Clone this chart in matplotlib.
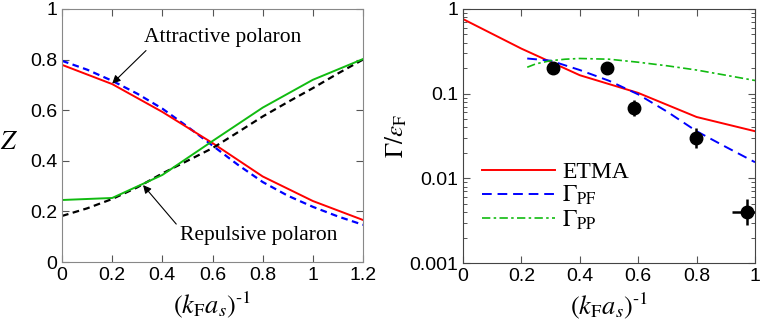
import numpy as np
from matplotlib import pyplot as plt

plt.rcParams['font.family'] = ['Liberation Sans', 'DejaVu Sans']
plt.rcParams['mathtext.fontset'] = 'stix'

# left panel: quasiparticle residue Z
x_coarse = [0, 0.2, 0.4, 0.6, 0.8, 1.0, 1.2]
z_attr_etma = [0.779, 0.703, 0.593, 0.470, 0.338, 0.241, 0.166]
z_rep_etma = [0.245, 0.253, 0.344, 0.478, 0.610, 0.720, 0.802]
x_fine = [0, 0.1, 0.2, 0.3, 0.4, 0.5, 0.6, 0.7, 0.8, 0.9, 1.0, 1.1, 1.2]
z_attr_ref = [0.795, 0.760, 0.716, 0.665, 0.606, 0.535, 0.460, 0.385, 0.316, 0.262, 0.218, 0.180, 0.147]
z_rep_ref = [0.182, 0.212, 0.249, 0.295, 0.350, 0.400, 0.450, 0.512, 0.575, 0.632, 0.687, 0.745, 0.800]

# right panel: decay rate
x_etma = [0, 0.2, 0.4, 0.6, 0.8, 1.0]
g_etma = [0.76, 0.34, 0.165, 0.102, 0.053, 0.036]
x_pf = [0.22, 0.3, 0.4, 0.5, 0.6, 0.7, 0.8, 0.9, 1.0]
g_pf = [0.26, 0.245, 0.19, 0.142, 0.098, 0.061, 0.036, 0.0235, 0.0155]
x_pp = [0.22, 0.25, 0.3, 0.35, 0.4, 0.5, 0.6, 0.7, 0.8, 0.9, 1.0]
g_pp = [0.205, 0.225, 0.245, 0.255, 0.26, 0.255, 0.235, 0.213, 0.19, 0.165, 0.143]
x_exp = [0.308, 0.493, 0.586, 0.798, 0.972]
g_exp = [0.201, 0.200, 0.068, 0.030, 0.0040]
xerr_exp = [0, 0, 0, 0, 0.05]
gerr_lo = [0, 0, 0.014, 0.007, 0.0012]
gerr_hi = [0, 0, 0.017, 0.009, 0.0017]

serif = ['Liberation Serif', 'DejaVu Serif']
xlab = r'$(k_{\rm F}a_s)^{\text{-1}}$'

fig = plt.figure(figsize=(7.63, 3.22), dpi=100)
ax1 = fig.add_axes([0.0813, 0.1863, 0.3945, 0.786])
ax2 = fig.add_axes([0.6068, 0.1832, 0.3827, 0.789])

ax1.plot(x_fine, z_attr_ref, color='#0000ff', ls='--', lw=1.6, dashes=(3, 2))
ax1.plot(x_coarse, z_attr_etma, color='#ff0000', lw=1.4)
ax1.plot(x_fine, z_rep_ref, color='black', ls='--', lw=1.6, dashes=(3, 2))
ax1.plot(x_coarse, z_rep_etma, color='#11bb11', lw=1.4)

ax1.annotate('Attractive polaron', xy=(0.2, 0.705), xytext=(0.325, 0.87),
             fontsize=15.5, family=serif,
             arrowprops=dict(arrowstyle='-|>', color='black', lw=0.8, mutation_scale=12,
                             relpos=(0.04, 0.0), shrinkA=1, shrinkB=0))
ax1.annotate('Repulsive polaron', xy=(0.323, 0.304), xytext=(0.47, 0.085),
             fontsize=15.5, family=serif,
             arrowprops=dict(arrowstyle='-|>', color='black', lw=0.8, mutation_scale=12,
                             relpos=(0.0, 0.9), shrinkA=1, shrinkB=0))

ax1.set_xlim(0, 1.2)
ax1.set_ylim(0, 1)
ax1.set_xticks([0, 0.2, 0.4, 0.6, 0.8, 1.0, 1.2])
ax1.set_xticklabels(['0', '0.2', '0.4', '0.6', '0.8', '1', '1.2'])
ax1.set_yticks([0, 0.2, 0.4, 0.6, 0.8, 1.0])
ax1.set_yticklabels(['0', '0.2', '0.4', '0.6', '0.8', '1'])
ax1.set_ylabel(r'$Z$', fontsize=19, rotation=0, ha='center', va='center')
ax1.yaxis.set_label_coords(-0.175, 0.474)
ax1.set_xlabel(xlab, fontsize=19, labelpad=4)
for s in ax1.spines.values():
    s.set_color('#888888')

ax2.plot(x_etma, g_etma, color='#ff0000', lw=1.4, label='ETMA')
ax2.plot(x_pf, g_pf, color='#0000ff', ls='--', lw=1.4, dashes=(5, 3), label=r'$\Gamma_{\rm PF}$')
ax2.plot(x_pp, g_pp, color='#11bb11', ls='-.', lw=1.2, dashes=(5, 2, 1.5, 2), label=r'$\Gamma_{\rm PP}$')
ax2.errorbar(x_exp, g_exp, xerr=xerr_exp, yerr=[gerr_lo, gerr_hi], fmt='o', color='black',
             ms=9, elinewidth=1.8, capsize=0)

ax2.set_yscale('log')
ax2.set_xlim(0, 1)
ax2.set_ylim(0.001, 1)
ax2.set_xticks([0, 0.2, 0.4, 0.6, 0.8, 1.0])
ax2.set_xticklabels(['0', '0.2', '0.4', '0.6', '0.8', '1'])
ax2.set_yticks([0.001, 0.01, 0.1, 1])
ax2.set_yticklabels(['0.001', '0.01', '0.1', '1'])
ax2.set_ylabel(r'$\Gamma/\varepsilon_{\rm F}$', fontsize=18, labelpad=0)
ax2.set_xlabel(xlab, fontsize=19, labelpad=4)
for s in ax2.spines.values():
    s.set_color('#444444')

leg = ax2.legend(loc='upper left', bbox_to_anchor=(0.065, 0.40), frameon=False,
                 handlelength=3.1, handletextpad=0.3, labelspacing=0.05,
                 borderaxespad=0, borderpad=0, prop={'family': serif, 'size': 17})

for ax in (ax1, ax2):
    ax.tick_params(which='both', direction='in', top=True, right=True, labelsize=14)
    ax.tick_params(which='major', length=5, width=0.8, color='#555555')
    ax.tick_params(which='minor', length=3, width=0.7, color='#555555')

fig.savefig('out.png', dpi=100)
